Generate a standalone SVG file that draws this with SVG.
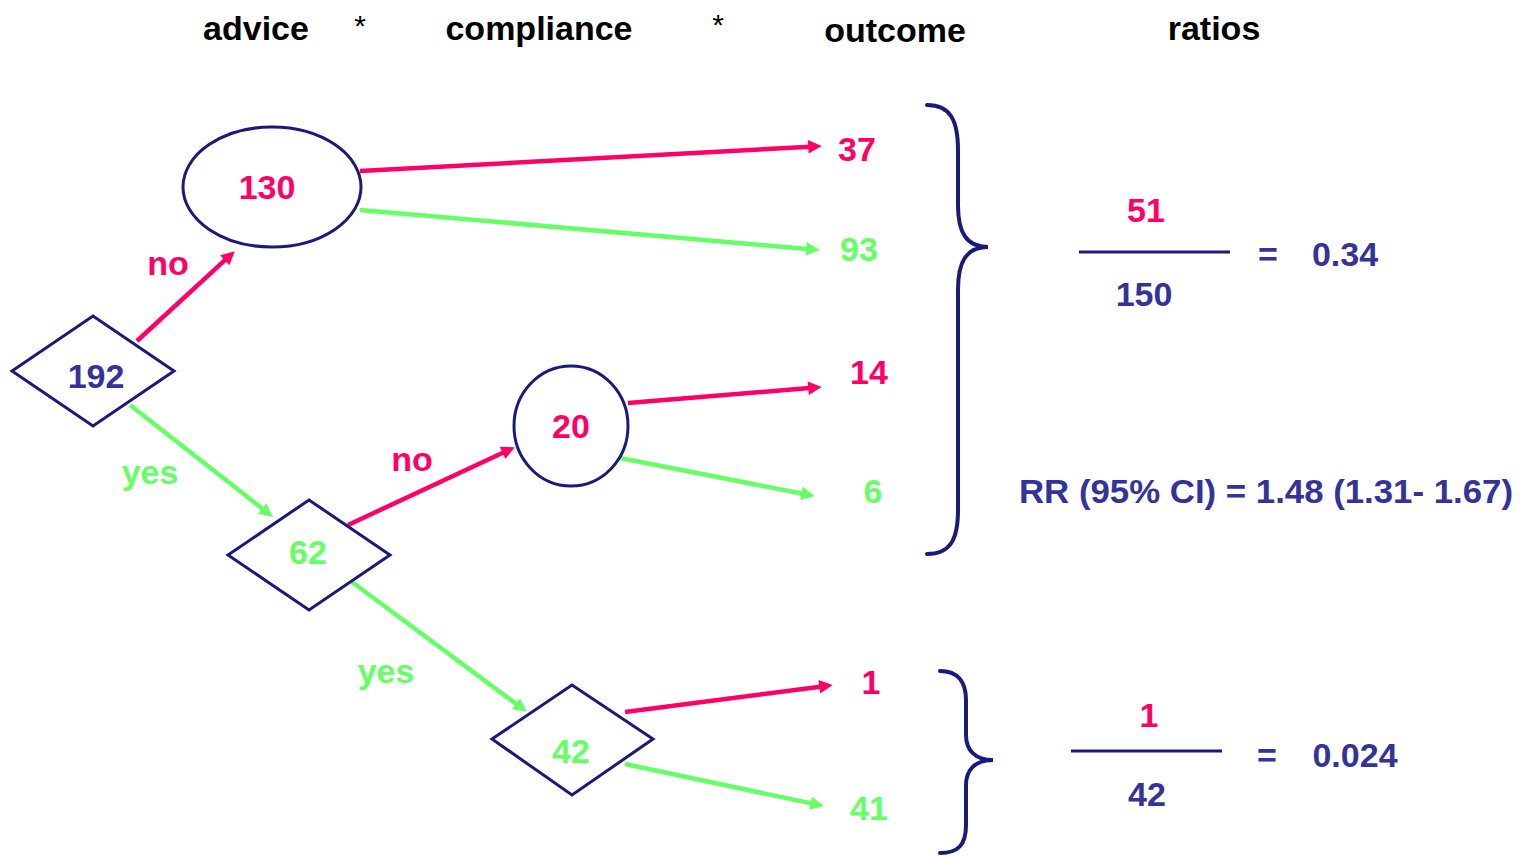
<svg xmlns="http://www.w3.org/2000/svg" width="1520" height="856" viewBox="0 0 1520 856">
<defs>
<style>
text{font-family:"Liberation Sans",Arial,sans-serif;font-weight:bold;font-size:34px;text-anchor:middle}
.hdr{fill:#000}
.ast{font-weight:normal;font-size:30px;fill:#000}
.pk{fill:#FF0066}
.gr{fill:#66FF66}
.nv{fill:#333399}
.shape{fill:none;stroke:#1a1a7a;stroke-width:3}
.brace{fill:none;stroke:#1a1a7a;stroke-width:4;stroke-linecap:round}
.frac{stroke:#1a1a7a;stroke-width:3}
.cr{stroke:#FF0066;stroke-width:4.5;fill:none}
.cg{stroke:#66FF66;stroke-width:4.5;fill:none}
</style>
<marker id="ar" viewBox="0 0 10 10" refX="5" refY="5" markerWidth="3.3" markerHeight="3" orient="auto"><path d="M0,0 L10,5 L0,10 z" fill="#FF0066"/></marker>
<marker id="ag" viewBox="0 0 10 10" refX="5" refY="5" markerWidth="3.3" markerHeight="3" orient="auto"><path d="M0,0 L10,5 L0,10 z" fill="#66FF66"/></marker>
</defs>
<rect width="1520" height="856" fill="#fff"/>

<g id="headers">
<text class="hdr" x="256" y="40">advice</text>
<text class="ast" x="360" y="36">*</text>
<text class="hdr" x="539" y="40">compliance</text>
<text class="ast" x="718" y="35">*</text>
<text class="hdr" x="895" y="42">outcome</text>
<text class="hdr" x="1214" y="40">ratios</text>
</g>

<g id="connectors">
<line class="cr" x1="137" y1="341" x2="229.8" y2="255.7" marker-end="url(#ar)"/>
<line class="cg" x1="130" y1="405" x2="267.5" y2="512.7" marker-end="url(#ag)"/>
<line class="cr" x1="348" y1="525" x2="508.7" y2="450" marker-end="url(#ar)"/>
<line class="cg" x1="352" y1="582" x2="521.4" y2="707.8" marker-end="url(#ag)"/>
<line class="cr" x1="360" y1="171" x2="815" y2="146.4" marker-end="url(#ar)"/>
<line class="cg" x1="360" y1="210" x2="813" y2="249.4" marker-end="url(#ag)"/>
<line class="cr" x1="628" y1="403" x2="815" y2="387.6" marker-end="url(#ar)"/>
<line class="cg" x1="620" y1="458" x2="808.1" y2="494.7" marker-end="url(#ag)"/>
<line class="cr" x1="625" y1="712" x2="826" y2="685.9" marker-end="url(#ar)"/>
<line class="cg" x1="625" y1="764" x2="817.2" y2="804.6" marker-end="url(#ag)"/>
<text class="pk" x="168" y="275">no</text>
<text class="gr" x="150" y="484">yes</text>
<text class="pk" x="412" y="471">no</text>
<text class="gr" x="386" y="683">yes</text>
</g>

<g id="n192">
<polygon class="shape" points="12,371 93,316 174,371 93,426"/>
<text class="nv" x="96" y="388">192</text>
</g>
<g id="n130">
<ellipse class="shape" cx="272" cy="187" rx="89" ry="60"/>
<text class="pk" x="267" y="199">130</text>
</g>
<g id="n62">
<polygon class="shape" points="228,555 309,500 390,555 309,610"/>
<text class="gr" x="308" y="564">62</text>
</g>
<g id="n20">
<ellipse class="shape" cx="571" cy="426" rx="57" ry="60"/>
<text class="pk" x="571" y="438">20</text>
</g>
<g id="n42">
<polygon class="shape" points="492,739 572,685 653,739 572,795"/>
<text class="gr" x="571" y="763">42</text>
</g>

<g id="outcomes">
<text class="pk" x="857" y="161">37</text>
<text class="gr" x="859" y="261">93</text>
<text class="pk" x="869" y="384">14</text>
<text class="gr" x="873" y="503">6</text>
<text class="pk" x="871" y="694">1</text>
<text class="gr" x="869" y="820">41</text>
</g>

<g id="brace-upper">
<path class="brace" d="M927,105 C950,105 958,120 958,150 L958,205 C958,232 966,247 988,247 C966,247 958,262 958,290 L958,510 C958,540 950,554 927,554"/>
</g>
<g id="brace-lower">
<path class="brace" d="M940,671 C958,671 966,682 966,700 L966,735 C966,750 975,760 993,760 C975,760 966,770 966,785 L966,825 C966,845 958,853 940,853"/>
</g>

<g id="ratio-upper">
<text class="pk" x="1146" y="222">51</text>
<line class="frac" x1="1079" y1="252" x2="1230" y2="252"/>
<text class="nv" x="1144" y="306">150</text>
<text class="nv" x="1268" y="266">=</text>
<text class="nv" x="1345" y="266">0.34</text>
</g>
<g id="rr">
<text class="nv" x="1266" y="503" textLength="494" lengthAdjust="spacingAndGlyphs">RR (95% CI) = 1.48 (1.31- 1.67)</text>
</g>
<g id="ratio-lower">
<text class="pk" x="1149" y="727">1</text>
<line class="frac" x1="1071" y1="751" x2="1222" y2="751"/>
<text class="nv" x="1147" y="806">42</text>
<text class="nv" x="1267" y="767">=</text>
<text class="nv" x="1355" y="767">0.024</text>
</g>
</svg>
